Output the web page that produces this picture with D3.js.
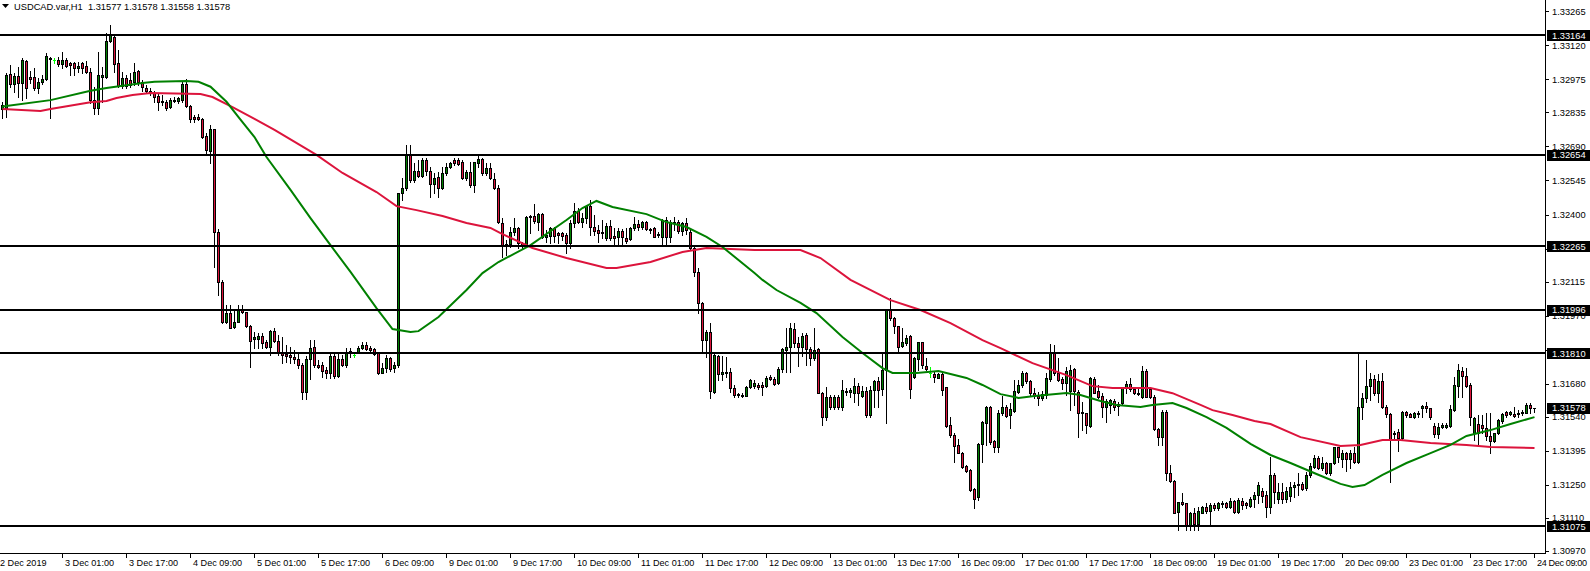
<!DOCTYPE html>
<html><head><meta charset="utf-8">
<script src="https://cdn.jsdelivr.net/npm/d3@7"></script>
<style>html,body{margin:0;padding:0;background:#fff;overflow:hidden}text{font-family:"Liberation Sans",Arial,sans-serif}</style>
</head><body><svg id="c" width="1590" height="571"></svg>
<script>
const symbol = "USDCAD.var,H1";
const open = [
1.32849,1.32853,1.32998,1.32956,1.32989,1.32960,1.33054,1.32985,1.32985,1.32939,
1.32964,1.32977,1.33062,1.33058,1.33058,1.33041,1.33058,1.33045,1.33045,1.33024,
1.33045,1.33032,1.33006,1.32887,1.32853,1.32985,1.32985,1.33138,1.33155,1.33045,
1.32947,1.32981,1.32973,1.32964,1.33011,1.32964,1.32939,1.32926,1.32917,1.32904,
1.32883,1.32878,1.32857,1.32883,1.32883,1.32887,1.32956,1.32861,1.32815,1.32815,
1.32807,1.32734,1.32671,1.32764,1.32325,1.32113,1.31942,1.31981,1.31921,1.31942,
1.31994,1.31985,1.31925,1.31871,1.31871,1.31883,1.31857,1.31836,1.31904,1.31862,
1.31815,1.31807,1.31803,1.31794,1.31785,1.31760,1.31644,1.31785,1.31836,1.31760,
1.31760,1.31739,1.31726,1.31798,1.31713,1.31785,1.31760,1.31811,1.31803,1.31815,
1.31832,1.31845,1.31832,1.31828,1.31811,1.31726,1.31747,1.31790,1.31747,1.31760,
1.32492,1.32513,1.32654,1.32547,1.32586,1.32564,1.32632,1.32586,1.32530,1.32560,
1.32513,1.32577,1.32603,1.32632,1.32632,1.32624,1.32556,1.32581,1.32526,1.32619,
1.32636,1.32577,1.32598,1.32552,1.32513,1.32364,1.32266,1.32275,1.32325,1.32343,
1.32279,1.32270,1.32390,1.32394,1.32368,1.32402,1.32304,1.32309,1.32343,1.32321,
1.32321,1.32313,1.32279,1.32364,1.32415,1.32368,1.32385,1.32436,1.32347,1.32334,
1.32321,1.32300,1.32351,1.32309,1.32304,1.32330,1.32300,1.32296,1.32343,1.32360,
1.32347,1.32368,1.32339,1.32343,1.32317,1.32304,1.32377,1.32304,1.32368,1.32368,
1.32330,1.32364,1.32325,1.32258,1.32155,1.32023,1.31866,1.31900,1.31644,1.31798,
1.31722,1.31730,1.31730,1.31662,1.31636,1.31632,1.31627,1.31666,1.31670,1.31675,
1.31675,1.31670,1.31709,1.31701,1.31683,1.31743,1.31824,1.31836,1.31913,1.31853,
1.31836,1.31887,1.31828,1.31790,1.31828,1.31640,1.31538,1.31623,1.31581,1.31623,
1.31581,1.31649,1.31644,1.31640,1.31670,1.31627,1.31649,1.31547,1.31653,1.31692,
1.31658,1.31739,1.31998,1.31960,1.31925,1.31840,1.31853,1.31883,1.31709,1.31785,
1.31857,1.31755,1.31726,1.31722,1.31705,1.31722,1.31666,1.31505,1.31462,1.31420,
1.31385,1.31330,1.31313,1.31232,1.31198,1.31424,1.31513,1.31581,1.31437,1.31411,
1.31556,1.31581,1.31547,1.31564,1.31644,1.31675,1.31726,1.31692,1.31640,1.31627,
1.31619,1.31632,1.31701,1.31811,1.31726,1.31701,1.31683,1.31649,1.31743,1.31644,
1.31560,1.31556,1.31500,1.31701,1.31649,1.31627,1.31581,1.31590,1.31606,1.31594,
1.31598,1.31666,1.31679,1.31658,1.31640,1.31623,1.31734,1.31658,1.31623,1.31487,
1.31453,1.31560,1.31300,1.31266,1.31134,1.31177,1.31173,1.31079,1.31130,1.31083,
1.31130,1.31156,1.31139,1.31164,1.31151,1.31173,1.31173,1.31156,1.31181,1.31134,
1.31181,1.31173,1.31160,1.31190,1.31207,1.31224,1.31207,1.31156,1.31292,1.31190,
1.31219,1.31190,1.31203,1.31241,1.31249,1.31254,1.31237,1.31292,1.31326,1.31364,
1.31322,1.31343,1.31300,1.31343,1.31411,1.31360,1.31385,1.31360,1.31385,1.31347,
1.31581,1.31619,1.31670,1.31701,1.31640,1.31692,1.31581,1.31551,1.31470,1.31475,
1.31449,1.31560,1.31551,1.31538,1.31556,1.31577,1.31585,1.31577,1.31500,1.31466,
1.31496,1.31496,1.31500,1.31568,1.31670,1.31734,1.31713,1.31675,1.31470,1.31509,
1.31505,1.31492,1.31458,1.31437,1.31470,1.31522,1.31560,1.31551,1.31551,1.31556,
1.31556,1.31556,1.31590,1.31577];
const high = [
1.32878,1.33002,1.33037,1.33002,1.33028,1.33066,1.33058,1.33011,1.33024,1.32981,
1.32994,1.33087,1.33070,1.33066,1.33070,1.33091,1.33066,1.33049,1.33049,1.33049,
1.33049,1.33054,1.33024,1.32943,1.33091,1.33028,1.33172,1.33207,1.33164,1.33100,
1.33006,1.32994,1.33002,1.33045,1.33015,1.32973,1.32952,1.32939,1.32926,1.32913,
1.32909,1.32887,1.32896,1.32900,1.32900,1.32964,1.32977,1.32866,1.32824,1.32828,
1.32811,1.32747,1.32781,1.32764,1.32339,1.32122,1.32015,1.32015,1.31994,1.32015,
1.32015,1.31985,1.31930,1.31900,1.31896,1.31896,1.31866,1.31909,1.31917,1.31887,
1.31879,1.31845,1.31836,1.31824,1.31815,1.31768,1.31798,1.31866,1.31866,1.31781,
1.31772,1.31751,1.31815,1.31815,1.31815,1.31803,1.31832,1.31832,1.31811,1.31840,
1.31857,1.31857,1.31840,1.31832,1.31815,1.31768,1.31803,1.31794,1.31772,1.32492,
1.32556,1.32696,1.32696,1.32619,1.32632,1.32641,1.32641,1.32603,1.32577,1.32581,
1.32603,1.32619,1.32624,1.32641,1.32641,1.32632,1.32590,1.32624,1.32624,1.32654,
1.32641,1.32619,1.32619,1.32577,1.32526,1.32385,1.32292,1.32347,1.32385,1.32347,
1.32283,1.32394,1.32398,1.32445,1.32406,1.32406,1.32334,1.32347,1.32347,1.32325,
1.32325,1.32321,1.32377,1.32449,1.32428,1.32406,1.32441,1.32462,1.32398,1.32356,
1.32377,1.32364,1.32377,1.32343,1.32343,1.32339,1.32343,1.32347,1.32390,1.32377,
1.32373,1.32373,1.32343,1.32347,1.32325,1.32381,1.32390,1.32377,1.32390,1.32377,
1.32368,1.32385,1.32339,1.32262,1.32173,1.32028,1.31909,1.31938,1.31811,1.31803,
1.31798,1.31794,1.31747,1.31675,1.31640,1.31640,1.31670,1.31700,1.31696,1.31683,
1.31687,1.31713,1.31717,1.31709,1.31751,1.31832,1.31917,1.31938,1.31938,1.31879,
1.31896,1.31896,1.31836,1.31917,1.31832,1.31644,1.31666,1.31632,1.31632,1.31632,
1.31696,1.31662,1.31662,1.31705,1.31683,1.31670,1.31666,1.31670,1.31696,1.31709,
1.31811,1.31998,1.32045,1.31964,1.31925,1.31917,1.31887,1.31887,1.31794,1.31857,
1.31857,1.31790,1.31751,1.31730,1.31726,1.31726,1.31666,1.31538,1.31470,1.31445,
1.31390,1.31334,1.31317,1.31237,1.31428,1.31522,1.31585,1.31585,1.31441,1.31568,
1.31628,1.31590,1.31598,1.31696,1.31696,1.31734,1.31730,1.31696,1.31662,1.31644,
1.31649,1.31726,1.31849,1.31845,1.31790,1.31709,1.31751,1.31760,1.31747,1.31653,
1.31602,1.31556,1.31709,1.31709,1.31675,1.31640,1.31615,1.31615,1.31615,1.31602,
1.31666,1.31692,1.31705,1.31666,1.31658,1.31755,1.31743,1.31662,1.31632,1.31492,
1.31568,1.31568,1.31334,1.31271,1.31177,1.31215,1.31173,1.31134,1.31151,1.31156,
1.31160,1.31173,1.31173,1.31173,1.31177,1.31181,1.31177,1.31194,1.31185,1.31194,
1.31194,1.31177,1.31198,1.31219,1.31262,1.31237,1.31224,1.31368,1.31300,1.31258,
1.31258,1.31241,1.31262,1.31262,1.31300,1.31262,1.31305,1.31343,1.31377,1.31373,
1.31368,1.31347,1.31343,1.31411,1.31411,1.31398,1.31390,1.31398,1.31411,1.31811,
1.31640,1.31781,1.31726,1.31717,1.31722,1.31726,1.31590,1.31556,1.31479,1.31487,
1.31564,1.31564,1.31556,1.31560,1.31564,1.31590,1.31602,1.31577,1.31513,1.31513,
1.31513,1.31513,1.31590,1.31709,1.31764,1.31751,1.31747,1.31683,1.31538,1.31547,
1.31547,1.31556,1.31556,1.31470,1.31530,1.31556,1.31564,1.31564,1.31581,1.31568,
1.31568,1.31598,1.31598,1.31578];
const low = [
1.32811,1.32815,1.32943,1.32921,1.32900,1.32887,1.32896,1.32960,1.32930,1.32917,
1.32956,1.32973,1.32811,1.33045,1.33032,1.33024,1.33028,1.32994,1.32994,1.33006,
1.33002,1.33002,1.32874,1.32828,1.32828,1.32878,1.32981,1.33134,1.33006,1.32943,
1.32939,1.32939,1.32943,1.32952,1.32952,1.32926,1.32921,1.32909,1.32878,1.32845,
1.32866,1.32845,1.32853,1.32878,1.32874,1.32878,1.32857,1.32793,1.32793,1.32802,
1.32726,1.32662,1.32619,1.32177,1.32058,1.31938,1.31938,1.31917,1.31917,1.31942,
1.31981,1.31921,1.31751,1.31832,1.31832,1.31832,1.31832,1.31803,1.31857,1.31803,
1.31768,1.31772,1.31768,1.31768,1.31747,1.31615,1.31615,1.31701,1.31751,1.31747,
1.31709,1.31705,1.31705,1.31705,1.31709,1.31755,1.31751,1.31794,1.31794,1.31811,
1.31828,1.31824,1.31815,1.31803,1.31722,1.31726,1.31730,1.31735,1.31730,1.31751,
1.32462,1.32505,1.32539,1.32539,1.32560,1.32560,1.32569,1.32475,1.32492,1.32475,
1.32509,1.32569,1.32598,1.32611,1.32611,1.32552,1.32547,1.32517,1.32496,1.32603,
1.32569,1.32569,1.32552,1.32509,1.32364,1.32219,1.32228,1.32262,1.32313,1.32258,
1.32258,1.32262,1.32321,1.32364,1.32334,1.32300,1.32283,1.32279,1.32283,1.32279,
1.32292,1.32236,1.32258,1.32347,1.32364,1.32347,1.32364,1.32313,1.32313,1.32283,
1.32300,1.32292,1.32292,1.32270,1.32270,1.32270,1.32279,1.32292,1.32334,1.32334,
1.32339,1.32334,1.32321,1.32304,1.32304,1.32270,1.32266,1.32283,1.32334,1.32321,
1.32313,1.32317,1.32253,1.32138,1.31981,1.31815,1.31794,1.31619,1.31640,1.31696,
1.31696,1.31709,1.31644,1.31623,1.31623,1.31623,1.31627,1.31662,1.31662,1.31658,
1.31632,1.31666,1.31696,1.31675,1.31679,1.31730,1.31730,1.31730,1.31836,1.31755,
1.31798,1.31760,1.31760,1.31781,1.31640,1.31505,1.31526,1.31572,1.31572,1.31572,
1.31568,1.31632,1.31623,1.31602,1.31590,1.31623,1.31538,1.31538,1.31581,1.31581,
1.31632,1.31513,1.31951,1.31896,1.31815,1.31836,1.31845,1.31619,1.31705,1.31739,
1.31747,1.31739,1.31709,1.31687,1.31705,1.31632,1.31496,1.31453,1.31347,1.31385,
1.31322,1.31305,1.31224,1.31151,1.31185,1.31347,1.31420,1.31424,1.31390,1.31390,
1.31547,1.31538,1.31492,1.31560,1.31640,1.31666,1.31683,1.31632,1.31619,1.31590,
1.31611,1.31619,1.31692,1.31717,1.31692,1.31658,1.31632,1.31568,1.31590,1.31453,
1.31483,1.31470,1.31496,1.31640,1.31619,1.31538,1.31517,1.31556,1.31568,1.31547,
1.31594,1.31640,1.31649,1.31636,1.31632,1.31619,1.31623,1.31619,1.31483,1.31420,
1.31420,1.31271,1.31262,1.31130,1.31058,1.31164,1.31058,1.31058,1.31058,1.31058,
1.31130,1.31130,1.31079,1.31143,1.31143,1.31156,1.31151,1.31151,1.31130,1.31130,
1.31147,1.31151,1.31156,1.31156,1.31173,1.31177,1.31113,1.31130,1.31173,1.31173,
1.31173,1.31177,1.31181,1.31198,1.31207,1.31228,1.31228,1.31283,1.31322,1.31317,
1.31313,1.31296,1.31292,1.31339,1.31347,1.31326,1.31309,1.31322,1.31343,1.31343,
1.31530,1.31602,1.31611,1.31632,1.31602,1.31577,1.31538,1.31262,1.31441,1.31394,
1.31445,1.31538,1.31538,1.31534,1.31538,1.31538,1.31560,1.31530,1.31453,1.31449,
1.31492,1.31492,1.31496,1.31564,1.31623,1.31623,1.31666,1.31505,1.31441,1.31420,
1.31470,1.31441,1.31385,1.31432,1.31466,1.31513,1.31538,1.31547,1.31538,1.31538,
1.31547,1.31556,1.31556,1.31558];
const close = [
1.32866,1.32994,1.32956,1.32989,1.32960,1.33058,1.32939,1.32977,1.32939,1.32964,
1.32977,1.33074,1.33066,1.33058,1.33041,1.33058,1.33032,1.33037,1.33024,1.33032,
1.33024,1.33006,1.32887,1.32853,1.32994,1.32994,1.33138,1.33164,1.33041,1.32947,
1.32981,1.32947,1.32952,1.33006,1.32964,1.32943,1.32926,1.32917,1.32900,1.32878,
1.32878,1.32853,1.32887,1.32887,1.32896,1.32956,1.32861,1.32807,1.32807,1.32807,
1.32730,1.32675,1.32764,1.32325,1.32113,1.31942,1.31981,1.31917,1.31942,1.31994,
1.31985,1.31925,1.31862,1.31879,1.31883,1.31853,1.31836,1.31904,1.31862,1.31815,
1.31803,1.31798,1.31794,1.31785,1.31760,1.31644,1.31785,1.31832,1.31760,1.31751,
1.31735,1.31726,1.31798,1.31713,1.31785,1.31760,1.31811,1.31820,1.31803,1.31832,
1.31845,1.31828,1.31824,1.31807,1.31726,1.31747,1.31790,1.31743,1.31760,1.32492,
1.32513,1.32654,1.32547,1.32586,1.32564,1.32632,1.32586,1.32530,1.32556,1.32513,
1.32577,1.32603,1.32619,1.32619,1.32615,1.32556,1.32581,1.32526,1.32624,1.32636,
1.32577,1.32598,1.32556,1.32513,1.32368,1.32270,1.32275,1.32325,1.32343,1.32279,
1.32266,1.32390,1.32394,1.32373,1.32402,1.32304,1.32313,1.32343,1.32309,1.32313,
1.32309,1.32279,1.32364,1.32415,1.32368,1.32385,1.32436,1.32347,1.32330,1.32321,
1.32325,1.32351,1.32300,1.32300,1.32330,1.32304,1.32287,1.32343,1.32360,1.32347,
1.32368,1.32339,1.32334,1.32304,1.32313,1.32377,1.32304,1.32368,1.32364,1.32330,
1.32364,1.32334,1.32258,1.32155,1.32023,1.31866,1.31900,1.31649,1.31803,1.31722,
1.31730,1.31726,1.31662,1.31632,1.31632,1.31627,1.31666,1.31696,1.31683,1.31666,
1.31666,1.31705,1.31701,1.31679,1.31743,1.31828,1.31836,1.31917,1.31853,1.31836,
1.31883,1.31828,1.31790,1.31824,1.31640,1.31538,1.31623,1.31581,1.31623,1.31581,
1.31653,1.31644,1.31653,1.31670,1.31640,1.31649,1.31547,1.31653,1.31692,1.31653,
1.31739,1.31998,1.31960,1.31925,1.31836,1.31857,1.31874,1.31658,1.31790,1.31857,
1.31760,1.31743,1.31726,1.31709,1.31722,1.31653,1.31500,1.31462,1.31415,1.31385,
1.31326,1.31309,1.31228,1.31190,1.31424,1.31517,1.31581,1.31432,1.31411,1.31556,
1.31581,1.31543,1.31572,1.31649,1.31675,1.31726,1.31692,1.31640,1.31627,1.31619,
1.31636,1.31705,1.31811,1.31726,1.31696,1.31683,1.31734,1.31739,1.31649,1.31556,
1.31556,1.31505,1.31705,1.31640,1.31623,1.31581,1.31606,1.31611,1.31581,1.31585,
1.31666,1.31679,1.31658,1.31640,1.31636,1.31734,1.31623,1.31623,1.31487,1.31453,
1.31560,1.31300,1.31266,1.31130,1.31177,1.31168,1.31079,1.31130,1.31083,1.31139,
1.31156,1.31139,1.31164,1.31151,1.31173,1.31168,1.31156,1.31181,1.31134,1.31185,
1.31164,1.31164,1.31190,1.31207,1.31249,1.31203,1.31156,1.31292,1.31219,1.31219,
1.31190,1.31224,1.31241,1.31249,1.31254,1.31232,1.31292,1.31330,1.31364,1.31322,
1.31343,1.31300,1.31343,1.31411,1.31368,1.31385,1.31360,1.31385,1.31347,1.31581,
1.31619,1.31670,1.31701,1.31640,1.31692,1.31581,1.31551,1.31441,1.31466,1.31449,
1.31560,1.31547,1.31538,1.31556,1.31551,1.31585,1.31577,1.31538,1.31466,1.31496,
1.31505,1.31505,1.31572,1.31675,1.31739,1.31713,1.31670,1.31538,1.31534,1.31470,
1.31492,1.31458,1.31437,1.31470,1.31526,1.31551,1.31547,1.31560,1.31543,1.31551,
1.31560,1.31590,1.31577,1.31578];
// moving averages: [bar index, price]
const greenMA = [[0,1.32860],[12,1.32887],[22,1.32927],[26,1.32939],[35,1.32960],[38,1.32965],[46,1.32968],[49,1.32965],[52,1.32944],[56,1.32880],[59,1.32815],[63,1.32730],[66,1.32645],[72,1.32505],[77,1.32385],[82,1.32270],[87,1.32156],[93.5,1.32002],[97.5,1.31913],[102,1.31900],[104,1.31904],[109,1.31964],[116,1.32079],[120,1.32151],[124,1.32198],[132,1.32270],[141,1.32377],[145,1.32428],[148.5,1.32458],[152.5,1.32432],[161,1.32402],[166,1.32368],[171,1.32347],[176,1.32305],[180,1.32262],[188,1.32151],[190,1.32122],[193.5,1.32079],[199.5,1.32024],[203.5,1.31981],[210,1.31879],[215,1.31811],[220,1.31747],[222.5,1.31726],[228.5,1.31726],[234,1.31734],[241,1.31705],[245,1.31675],[249.5,1.31636],[254,1.31620],[258,1.31628],[266,1.31641],[269.5,1.31632],[274.5,1.31607],[278.5,1.31590],[284.5,1.31581],[287.5,1.31590],[292.5,1.31598],[296,1.31577],[301,1.31538],[306,1.31492],[312,1.31424],[317,1.31377],[322,1.31343],[328.5,1.31296],[334.5,1.31254],[337.5,1.31241],[340.5,1.31249],[345,1.31292],[351,1.31343],[357,1.31385],[362,1.31420],[366,1.31458],[372,1.31483],[377,1.31509],[383,1.31538]];
const redMA = [[0,1.32849],[9.5,1.32841],[12,1.32849],[22,1.32878],[26,1.32883],[28.5,1.32896],[32.5,1.32909],[37,1.32917],[49.5,1.32913],[52.5,1.32900],[57.5,1.32857],[63,1.32807],[68,1.32760],[78.5,1.32654],[85,1.32577],[93.5,1.32496],[98.5,1.32436],[103.5,1.32419],[110,1.32394],[116,1.32364],[122,1.32343],[124.5,1.32321],[132.5,1.32258],[141,1.32215],[151,1.32173],[153.5,1.32173],[162,1.32198],[170,1.32241],[176,1.32258],[188,1.32249],[199.5,1.32249],[204.5,1.32215],[212,1.32122],[222,1.32036],[229.5,1.31994],[237,1.31938],[245,1.31866],[249.5,1.31832],[257.5,1.31768],[266,1.31717],[272.5,1.31670],[277.5,1.31662],[287,1.31662],[292.5,1.31640],[299.5,1.31590],[302.5,1.31568],[307.5,1.31547],[313,1.31522],[317,1.31509],[324.5,1.31453],[334.5,1.31415],[339.5,1.31420],[345,1.31441],[349.5,1.31441],[357,1.31428],[366,1.31420],[372,1.31411],[383,1.31407]];
const levels = [1.33164, 1.32654, 1.32265, 1.31996, 1.31810, 1.31075];
const yTicks = [1.33265,1.33120,1.32975,1.32835,1.32690,1.32545,1.32400,1.32255,1.32115,1.31970,1.31825,1.31680,1.31540,1.31395,1.31250,1.31110,1.30970];
const xTickBars = [0,15,31,47,63,79,95,111,127,143,159,175,191,207,223,239,255,271,287,303,319,335,351,367,383];
const xTickLabels = ["2 Dec 2019","3 Dec 01:00","3 Dec 17:00","4 Dec 09:00","5 Dec 01:00","5 Dec 17:00","6 Dec 09:00","9 Dec 01:00","9 Dec 17:00","10 Dec 09:00","11 Dec 01:00","11 Dec 17:00","12 Dec 09:00","13 Dec 01:00","13 Dec 17:00","16 Dec 09:00","17 Dec 01:00","17 Dec 17:00","18 Dec 09:00","19 Dec 01:00","19 Dec 17:00","20 Dec 09:00","23 Dec 01:00","23 Dec 17:00","24 Dec 09:00"];

const W = 1590, H = 571, plotR = 1545, plotB = 553;
const BULL = "#008000", BEAR = "#dc143c", DOJI = "#00ff00";
const svg = d3.select("#c");
svg.append("rect").attr("width", W).attr("height", H).attr("fill", "#fff");
svg.append("defs").append("clipPath").attr("id", "clip")
  .append("rect").attr("x", 0).attr("y", 0).attr("width", plotR).attr("height", plotB);

const n = open.length;
const x = d3.scaleLinear().domain([0, n - 1]).range([2.5, 2.5 + 4 * (n - 1)]);
const y = d3.scaleLinear().domain([1.30960, 1.33313]).range([plotB, 0]);
const idx = d3.range(n);
const plot = svg.append("g").attr("clip-path", "url(#clip)").attr("shape-rendering", "crispEdges");

// wicks
plot.append("g").selectAll("rect").data(idx).join("rect")
  .attr("x", i => Math.round(x(i) - 0.5))
  .attr("y", i => Math.round(y(high[i])))
  .attr("width", 1)
  .attr("height", i => Math.max(1, Math.round(y(low[i])) - Math.round(y(high[i])) + 1))
  .attr("fill", i => open[i] === close[i] ? DOJI : "#000");

// bodies
const bodies = plot.append("g").selectAll("g").data(idx).join("g");
bodies.each(function(i) {
  const g = d3.select(this);
  const o = open[i], c = close[i];
  const cx = Math.round(x(i) - 1.5);
  if (o === c) {
    g.append("rect").attr("x", cx).attr("y", Math.round(y(o))).attr("width", 3).attr("height", 1).attr("fill", DOJI);
    return;
  }
  const t = Math.round(y(Math.max(o, c))), b = Math.round(y(Math.min(o, c)));
  g.append("rect").attr("x", cx).attr("y", t).attr("width", 3).attr("height", Math.max(1, b - t + 1)).attr("fill", "#000");
  if (b - t >= 2) {
    g.append("rect").attr("x", cx + 1).attr("y", t + 1).attr("width", 1).attr("height", b - t - 1)
      .attr("fill", c > o ? BULL : BEAR);
  }
});

// moving averages
const line = d3.line().x(d => x(d[0])).y(d => y(d[1]));
const maG = svg.append("g").attr("clip-path", "url(#clip)");
maG.append("path").datum(redMA).attr("d", line).attr("fill", "none").attr("stroke", BEAR).attr("stroke-width", 2);
maG.append("path").datum(greenMA).attr("d", line).attr("fill", "none").attr("stroke", BULL).attr("stroke-width", 2);

// horizontal levels
svg.append("g").attr("shape-rendering", "crispEdges").selectAll("rect").data(levels).join("rect")
  .attr("x", 0).attr("width", plotR).attr("y", d => Math.round(y(d)) - 1).attr("height", 2).attr("fill", "#000");

// axes frame
const frame = svg.append("g").attr("shape-rendering", "crispEdges");
frame.append("rect").attr("x", plotR).attr("y", 0).attr("width", 1).attr("height", plotB + 1).attr("fill", "#000");
frame.append("rect").attr("x", 0).attr("y", plotB).attr("width", plotR + 1).attr("height", 1).attr("fill", "#000");

// right axis ticks and labels (labels under a price box are hidden by the box)
const boxVals = levels.concat([close[n - 1]]);
const hidden = d => boxVals.some(b => Math.abs(y(b) - y(d)) < 5);
const yAx = svg.append("g");
yAx.selectAll("rect").data(yTicks).join("rect")
  .attr("x", plotR + 1).attr("y", d => Math.round(y(d))).attr("width", 3).attr("height", 1).attr("fill", "#000")
  .attr("shape-rendering", "crispEdges");
yAx.selectAll("text").data(yTicks.filter(d => !hidden(d))).join("text")
  .attr("x", 1552).attr("y", d => y(d) + 3.4)
  .attr("font-size", 9.3).attr("fill", "#000").text(d => d.toFixed(5));

// price boxes
const boxes = svg.append("g").selectAll("g").data(boxVals).join("g");
boxes.append("rect").attr("x", plotR + 2).attr("y", d => Math.round(y(d)) - 5).attr("width", W - plotR - 2).attr("height", 11)
  .attr("fill", "#000").attr("shape-rendering", "crispEdges");
boxes.append("text").attr("x", 1552).attr("y", d => y(d) + 3.6)
  .attr("font-size", 9.3).attr("fill", "#fff").text(d => d.toFixed(5));

// bottom axis
const xAx = svg.append("g");
xAx.selectAll("rect").data(xTickBars.slice(1)).join("rect")
  .attr("x", d => Math.round(x(d) - 0.5)).attr("y", plotB + 1).attr("width", 1).attr("height", 4).attr("fill", "#000")
  .attr("shape-rendering", "crispEdges");
xAx.selectAll("text").data(xTickBars).join("text")
  .attr("x", (d, i) => i === 0 ? 0 : x(d) + 2.5).attr("y", 565.5)
  .attr("font-size", 9.1).attr("fill", "#000")
  .attr("textLength", (d, i) => i === xTickBars.length - 1 ? 50 : null)
  .text((d, i) => xTickLabels[i]);

// title
svg.append("path").attr("d", "M2,4 L9,4 L5.5,8 Z").attr("fill", "#000");
svg.append("text").attr("x", 14).attr("y", 9.5).attr("font-size", 9.3).attr("fill", "#000")
  .style("white-space", "pre")
  .text(symbol + "  " + [open[n - 1], high[n - 1], low[n - 1], close[n - 1]].map(v => v.toFixed(5)).join(" "));
</script></body></html>
